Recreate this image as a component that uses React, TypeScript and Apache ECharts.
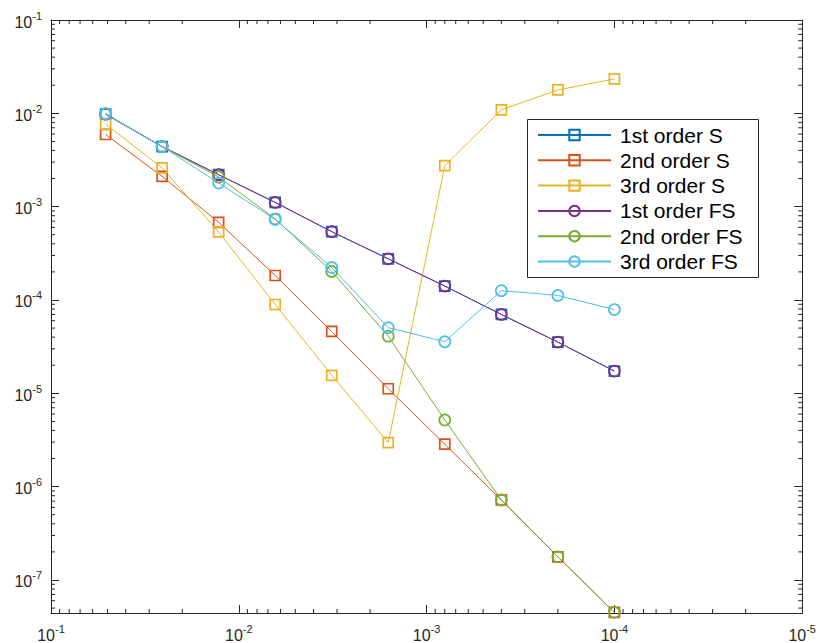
import React, { useEffect, useRef } from "react";
import * as echarts from "echarts";

// step sizes (x)
const stepSizes = [5.12e-2, 2.56e-2, 1.28e-2, 6.4e-3, 3.2e-3, 1.6e-3, 8e-4, 4e-4, 2e-4, 1e-4];

// errors (y)
const firstS = [9.8e-3, 4.4e-3, 2.2e-3, 1.11e-3, 5.4e-4, 2.76e-4, 1.41e-4, 7.0e-5, 3.54e-5, 1.73e-5];
const secondS = [5.93e-3, 2.11e-3, 6.8e-4, 1.83e-4, 4.6e-5, 1.12e-5, 2.85e-6, 7.2e-7, 1.77e-7, 4.5e-8];
const thirdS = [7.65e-3, 2.6e-3, 5.36e-4, 8.95e-5, 1.56e-5, 2.97e-6, 2.75e-3, 1.09e-2, 1.78e-2, 2.34e-2];
const firstFS = [9.8e-3, 4.4e-3, 2.2e-3, 1.11e-3, 5.4e-4, 2.76e-4, 1.41e-4, 7.0e-5, 3.54e-5, 1.73e-5];
const secondFS = [9.9e-3, 4.4e-3, 2.08e-3, 7.4e-4, 2.02e-4, 4.1e-5, 5.18e-6, 7.2e-7, 1.77e-7, 4.5e-8];
const thirdFS = [9.9e-3, 4.41e-3, 1.79e-3, 7.3e-4, 2.23e-4, 5.05e-5, 3.57e-5, 1.26e-4, 1.12e-4, 7.9e-5];

const seriesNames = ["1st order S", "2nd order S", "3rd order S", "1st order FS", "2nd order FS", "3rd order FS"];
const seriesColors = ["#0072BD", "#D95319", "#EDB120", "#7E2F8E", "#77AC30", "#4DBEEE"];
const seriesSymbols = ["rect", "rect", "rect", "circle", "circle", "circle"];
const seriesValues = [firstS, secondS, thirdS, firstFS, secondFS, thirdFS];

// axis ranges
const xMin = 1e-5;
const xMax = 1e-1;
const yMin = 4.43e-8;
const yMax = 1e-1;

// minor tick mantissas and decades
const minorMantissas = [2, 3, 4, 5, 6, 7, 8, 9];
const xMinorDecades = [-5, -4, -3, -2];
const yMinorDecades = [-8, -7, -6, -5, -4, -3, -2];

const AXIS = "#262626";
const FONT = "'Liberation Sans', Arial, Helvetica, sans-serif";

export default function App() {
  const ref = useRef<HTMLDivElement>(null);
  useEffect(() => {
    if (!ref.current) return;
    const chart = echarts.init(ref.current, null, { renderer: "svg" });

    const xMinor: number[][] = [];
    xMinorDecades.forEach((e) => minorMantissas.forEach((m) => xMinor.push([m * Math.pow(10, e), 1e-2])));
    const yMinor: number[][] = [];
    yMinorDecades.forEach((e) =>
      minorMantissas.forEach((m) => {
        const v = m * Math.pow(10, e);
        if (v >= yMin && v <= yMax) yMinor.push([1e-2, v]);
      })
    );

    const powLabel = (v: number) => {
      const l = Math.log10(v);
      const e = Math.round(l);
      if (Math.abs(l - e) > 1e-6) return "";
      return `{a|10}{b|${e}}`;
    };
    const rich = {
      a: { fontSize: 16, lineHeight: 24, color: AXIS, fontFamily: FONT },
      b: { fontSize: 11, lineHeight: 12, verticalAlign: "top", color: AXIS, fontFamily: FONT },
    };

    const baseX = {
      type: "log",
      logBase: 10,
      min: xMin,
      max: xMax,
      inverse: true,
      axisLine: { show: true, onZero: false, lineStyle: { color: AXIS, width: 1 } },
      axisTick: { show: true, inside: true, length: 8, lineStyle: { color: AXIS, width: 1 } },
      splitLine: { show: false },
      minorTick: { show: false },
    };
    const baseY = {
      type: "log",
      logBase: 10,
      min: yMin,
      max: yMax,
      axisLine: { show: true, onZero: false, lineStyle: { color: AXIS, width: 1 } },
      axisTick: { show: true, inside: true, length: 8, lineStyle: { color: AXIS, width: 1 } },
      splitLine: { show: false },
      minorTick: { show: false },
    };

    const lineSeries = seriesNames.map((name, i) => ({
      name,
      type: "line",
      xAxisIndex: 0,
      yAxisIndex: 0,
      data: stepSizes.map((h, k) => [h, seriesValues[i][k]]),
      symbol: seriesSymbols[i],
      symbolSize: seriesSymbols[i] === "rect" ? 10 : 11,
      showAllSymbol: true,
      lineStyle: { color: seriesColors[i], width: 1 },
      itemStyle: { color: "rgba(255,255,255,0)", borderColor: seriesColors[i], borderWidth: 1.7 },
      emphasis: { disabled: true },
      silent: true,
    }));

    const tickStyle = { stroke: AXIS, lineWidth: 1 };

    const option = {
      animation: false,
      backgroundColor: "#ffffff",
      grid: { left: 51, right: 16, top: 20, bottom: 29, containLabel: false },
      xAxis: [
        {
          ...baseX,
          position: "bottom",
          axisLabel: { show: true, margin: 10, formatter: powLabel, rich },
        },
        {
          ...baseX,
          position: "top",
          axisLabel: { show: false },
        },
      ],
      yAxis: [
        {
          ...baseY,
          position: "left",
          axisLabel: { show: true, margin: 9, padding: [4, 0, 0, 0], formatter: powLabel, rich },
        },
        {
          ...baseY,
          position: "right",
          axisLabel: { show: false },
        },
      ],
      legend: {
        data: seriesNames,
        orient: "vertical",
        left: 537,
        top: 124.5,
        padding: 0,
        itemGap: 4.3,
        itemWidth: 73,
        itemHeight: 13,
        selectedMode: false,
        textStyle: {
          fontSize: 21,
          color: "#000",
          fontFamily: FONT,
          padding: [0, 0, 0, 4],
        },
        z: 10,
      },
      graphic: [
        {
          type: "rect",
          z: 5,
          silent: true,
          shape: { x: 527.5, y: 119.5, width: 231, height: 158 },
          style: { fill: "#ffffff", stroke: AXIS, lineWidth: 1 },
        },
      ],
      series: [
        ...lineSeries,
        {
          name: "xMinorTicks",
          type: "custom",
          xAxisIndex: 0,
          yAxisIndex: 0,
          silent: true,
          clip: false,
          data: xMinor,
          renderItem: (params: any, api: any) => {
            const cs = params.coordSys;
            const px = api.coord([api.value(0), api.value(1)])[0];
            const yb = cs.y + cs.height;
            return {
              type: "group",
              children: [
                { type: "line", shape: { x1: px, y1: yb, x2: px, y2: yb - 4 }, style: tickStyle },
                { type: "line", shape: { x1: px, y1: cs.y, x2: px, y2: cs.y + 4 }, style: tickStyle },
              ],
            };
          },
        },
        {
          name: "yMinorTicks",
          type: "custom",
          xAxisIndex: 0,
          yAxisIndex: 0,
          silent: true,
          clip: false,
          data: yMinor,
          renderItem: (params: any, api: any) => {
            const cs = params.coordSys;
            const py = api.coord([api.value(0), api.value(1)])[1];
            const xr = cs.x + cs.width;
            return {
              type: "group",
              children: [
                { type: "line", shape: { x1: cs.x, y1: py, x2: cs.x + 4, y2: py }, style: tickStyle },
                { type: "line", shape: { x1: xr, y1: py, x2: xr - 4, y2: py }, style: tickStyle },
              ],
            };
          },
        },
      ],
    };

    chart.setOption(option as any);
    return () => chart.dispose();
  }, []);

  return (
    <div
      ref={ref}
      style={{ position: "absolute", left: 0, top: 0, width: 819, height: 643, background: "#fff" }}
    />
  );
}
